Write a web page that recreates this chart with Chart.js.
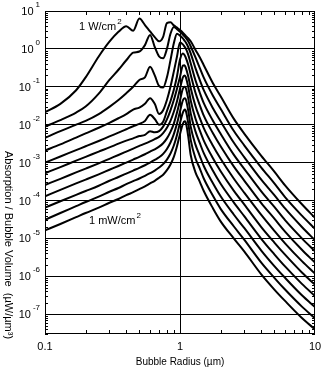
<!DOCTYPE html>
<html>
<head>
<meta charset="utf-8">
<script src="https://cdn.jsdelivr.net/npm/chart.js@4"></script>
<style>
  body { margin: 0; background: #fff; }
  canvas { display: block; }
</style>
</head>
<body>
<canvas id="chart" width="322" height="372"></canvas>
<script>
'use strict'

// bubble radius (um), shared by every curve
const radius = [0.1, 0.13, 0.17, 0.2, 0.25, 0.3, 0.35, 0.4, 0.45, 0.5, 0.55, 0.6, 0.65, 0.7, 0.75, 0.8, 0.85, 0.9, 0.95,
  1.0, 1.05, 1.08, 1.1, 1.15, 1.2, 1.3, 1.4, 1.5, 1.75, 2, 2.5, 3, 4, 5, 6, 8, 10];

// log10 of absorption / bubble volume, top curve (1 W/cm2) first
const curve01 = [-1.67, -1.45, -1.09, -0.75, -0.2, 0.19, 0.45, 0.6, 0.48, 0.8, 0.63, 0.46, 0.31, 0.2, 0.32, 0.68, 0.7, 0.62, 0.56,
  0.5, 0.43, 0.38, 0.35, 0.28, 0.2, -0.02, -0.22, -0.43, -0.9, -1.25, -1.84, -2.24, -2.82, -3.24, -3.6, -4.1, -4.46];
const curve02 = [-2.05, -1.88, -1.68, -1.52, -1.18, -0.82, -0.55, -0.3, -0.1, -0.07, 0.1, 0.37, 0.05, -0.2, -0.25, 0.0, 0.4, 0.58, 0.52,
  0.45, 0.38, 0.33, 0.3, 0.2, 0.07, -0.22, -0.5, -0.76, -1.23, -1.58, -2.16, -2.55, -3.13, -3.55, -3.91, -4.4, -4.75];
const curve03 = [-2.35, -2.17, -2.0, -1.9, -1.72, -1.53, -1.35, -1.17, -1.0, -0.82, -0.75, -0.47, -0.7, -0.98, -1.02, -0.75, -0.3, 0.15, 0.4,
  0.35, 0.28, 0.22, 0.18, 0.05, -0.12, -0.5, -0.82, -1.09, -1.56, -1.91, -2.47, -2.86, -3.45, -3.86, -4.21, -4.7, -5.05];
const curve04 = [-2.68, -2.52, -2.34, -2.23, -2.08, -1.95, -1.83, -1.72, -1.6, -1.55, -1.45, -1.3, -1.45, -1.72, -1.62, -1.35, -1.0, -0.6, -0.2,
  0.17, 0.12, 0.06, 0.02, -0.15, -0.38, -0.82, -1.15, -1.43, -1.89, -2.24, -2.79, -3.17, -3.76, -4.17, -4.52, -5.0, -5.34];
const curve05 = [-3.0, -2.84, -2.67, -2.57, -2.43, -2.31, -2.21, -2.12, -2.04, -1.98, -1.9, -1.74, -1.85, -2.0, -1.92, -1.64, -1.38, -1.08, -0.72,
  -0.28, -0.12, -0.16, -0.22, -0.42, -0.68, -1.15, -1.48, -1.76, -2.22, -2.57, -3.1, -3.48, -4.07, -4.48, -4.82, -5.3, -5.64];
const curve06 = [-3.28, -3.12, -2.95, -2.85, -2.71, -2.6, -2.5, -2.42, -2.36, -2.3, -2.27, -2.17, -2.2, -2.17, -2.05, -1.86, -1.62, -1.35, -1.05,
  -0.74, -0.44, -0.43, -0.48, -0.72, -1.03, -1.5, -1.82, -2.09, -2.55, -2.9, -3.42, -3.8, -4.38, -4.8, -5.13, -5.6, -5.93];
const curve07 = [-3.59, -3.43, -3.26, -3.16, -3.02, -2.9, -2.8, -2.71, -2.63, -2.56, -2.5, -2.44, -2.38, -2.32, -2.22, -2.08, -1.9, -1.66, -1.38,
  -1.05, -0.75, -0.7, -0.73, -1.0, -1.36, -1.83, -2.15, -2.42, -2.88, -3.23, -3.74, -4.11, -4.7, -5.11, -5.43, -5.9, -6.22];
const curve08 = [-3.89, -3.72, -3.55, -3.45, -3.31, -3.19, -3.09, -3.0, -2.92, -2.85, -2.78, -2.71, -2.65, -2.58, -2.49, -2.36, -2.19, -1.97, -1.68,
  -1.36, -1.05, -1.0, -1.02, -1.3, -1.7, -2.17, -2.48, -2.75, -3.21, -3.56, -4.05, -4.42, -5.01, -5.42, -5.74, -6.2, -6.52];
const curve09 = [-4.19, -4.02, -3.85, -3.75, -3.61, -3.48, -3.38, -3.29, -3.21, -3.14, -3.07, -3.0, -2.93, -2.86, -2.77, -2.64, -2.47, -2.25, -1.97,
  -1.65, -1.36, -1.3, -1.32, -1.62, -2.05, -2.52, -2.82, -3.09, -3.54, -3.89, -4.37, -4.73, -5.32, -5.73, -6.04, -6.5, -6.81];
const curve10 = [-4.51, -4.33, -4.15, -4.04, -3.9, -3.77, -3.67, -3.57, -3.49, -3.42, -3.35, -3.28, -3.21, -3.13, -3.04, -2.92, -2.76, -2.55, -2.27,
  -1.95, -1.68, -1.6, -1.62, -1.95, -2.4, -2.88, -3.15, -3.42, -3.87, -4.22, -4.68, -5.04, -5.64, -6.04, -6.35, -6.8, -7.11];
const curve11 = [-4.79, -4.62, -4.44, -4.33, -4.19, -4.06, -3.96, -3.86, -3.78, -3.7, -3.63, -3.55, -3.48, -3.4, -3.32, -3.2, -3.05, -2.85, -2.57,
  -2.25, -1.98, -1.91, -1.93, -2.3, -2.8, -3.25, -3.5, -3.75, -4.2, -4.55, -5.0, -5.35, -5.95, -6.35, -6.65, -7.1, -7.4];

// axis labels
const yExponents = [1, 0, -1, -2, -3, -4, -5, -6, -7];
const xLabels = [0.1, 1, 10];

const curves = [curve01, curve02, curve03, curve04, curve05, curve06, curve07, curve08, curve09, curve10, curve11];
const FONT = "'Liberation Sans', Arial, sans-serif";

function isDecade(v) {
  const l = Math.log10(v);
  return Math.abs(l - Math.round(l)) < 1e-6;
}

// frame, minor ticks and all the text
const decorations = {
  id: 'decorations',
  afterDraw(chart) {
    const { ctx, chartArea: a, scales: { x, y } } = chart;
    ctx.save();
    ctx.strokeStyle = '#000';
    ctx.fillStyle = '#000';
    ctx.lineWidth = 1;
    ctx.strokeRect(a.left + 0.5, a.top + 0.5, a.right - a.left - 1, a.bottom - a.top - 1);

    ctx.beginPath();
    for (let e = -8; e <= 0; e++) {
      for (let m = 2; m <= 9; m++) {
        const v = m * Math.pow(10, e);
        if (v < y.min || v > y.max) continue;
        const py = Math.round(y.getPixelForValue(v)) + 0.5;
        ctx.moveTo(a.left, py); ctx.lineTo(a.left + 3, py);
        ctx.moveTo(a.right, py); ctx.lineTo(a.right - 3, py);
      }
    }
    for (const e of [-1, 0]) {
      for (let m = 2; m <= 9; m++) {
        const px = Math.round(x.getPixelForValue(m * Math.pow(10, e))) + 0.5;
        ctx.moveTo(px, a.bottom); ctx.lineTo(px, a.bottom - 4);
        ctx.moveTo(px, a.top); ctx.lineTo(px, a.top + 4);
      }
    }
    ctx.stroke();

    // y tick labels 10^n
    ctx.textBaseline = 'middle';
    yExponents.forEach(e => {
      const py = y.getPixelForValue(Math.pow(10, e));
      ctx.font = '8px ' + FONT;
      ctx.textAlign = 'right';
      const es = String(e);
      const w = ctx.measureText(es).width;
      ctx.fillText(es, 40, py - 6);
      ctx.font = '11px ' + FONT;
      ctx.fillText('10', 40 - w - 2, py + 1);
    });

    // x tick labels
    ctx.font = '11px ' + FONT;
    ctx.textAlign = 'center';
    xLabels.forEach(v => ctx.fillText(String(v), x.getPixelForValue(v), 347));

    // x title
    ctx.font = '10px ' + FONT;
    ctx.fillText('Bubble Radius (\u00b5m)', (a.left + a.right) / 2, 362);

    // y title, reads downward
    ctx.save();
    ctx.translate(8, 245);
    ctx.rotate(Math.PI / 2);
    ctx.font = '11px ' + FONT;
    ctx.fillText('Absorption / Bubble Volume  (\u00b5W/\u00b5m\u00b3)', 0, 0);
    ctx.restore();

    // intensity notes
    ctx.textAlign = 'left';
    ctx.font = '11px ' + FONT;
    ctx.fillText('1 W/cm', 79, 27);
    let w = ctx.measureText('1 W/cm').width;
    ctx.font = '8px ' + FONT;
    ctx.fillText('2', 79 + w + 1, 22);
    ctx.font = '11px ' + FONT;
    ctx.fillText('1 mW/cm', 89, 221);
    w = ctx.measureText('1 mW/cm').width;
    ctx.font = '8px ' + FONT;
    ctx.fillText('2', 89 + w + 1, 216);
    ctx.restore();
  }
};

const ctx = document.getElementById('chart');
new Chart(ctx, {
  type: 'line',
  data: {
    datasets: curves.map(c => ({
      data: radius.map((r, i) => ({ x: r, y: Math.pow(10, c[i]) })),
      borderColor: '#000',
      borderWidth: 2,
      pointRadius: 0,
      cubicInterpolationMode: 'monotone',
      fill: false
    }))
  },
  options: {
    responsive: false,
    animation: false,
    layout: { padding: { top: 11, right: 7, left: 0, bottom: 0 } },
    scales: {
      x: {
        type: 'logarithmic',
        min: 0.1,
        max: 10,
        ticks: { display: false },
        border: { display: false },
        grid: {
          drawTicks: false,
          lineWidth: 1,
          color: c => (Math.abs(c.tick.value - 1) < 1e-9 ? '#000' : 'rgba(0,0,0,0)')
        },
        afterFit: s => { s.height = 38; }
      },
      y: {
        type: 'logarithmic',
        min: 3e-8,
        max: 10,
        ticks: { display: false },
        border: { display: false },
        grid: {
          drawTicks: false,
          lineWidth: 1,
          color: c => (isDecade(c.tick.value) ? '#000' : 'rgba(0,0,0,0)')
        },
        afterFit: s => { s.width = 45; }
      }
    },
    plugins: {
      legend: { display: false },
      tooltip: { enabled: false }
    }
  },
  plugins: [decorations]
});
</script>
</body>
</html>
